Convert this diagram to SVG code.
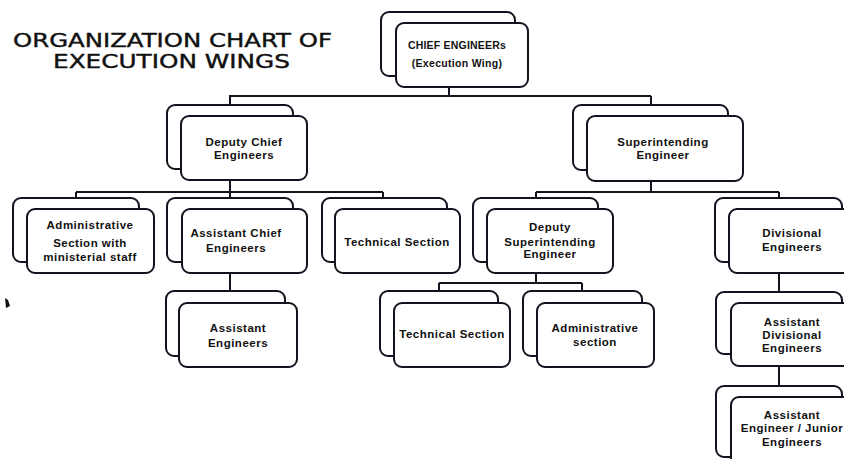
<svg xmlns="http://www.w3.org/2000/svg" width="844" height="459" viewBox="0 0 844 459">
<style>
.bk{fill:#fff;stroke:#151220;stroke-width:2}
.fr{fill:#fff;stroke:#151220;stroke-width:2}
.cn{fill:none;stroke:#151220;stroke-width:2}
.t{font-family:"Liberation Sans",Arial,sans-serif;font-weight:bold;font-size:11.5px;letter-spacing:0.5px;fill:#111;text-anchor:middle}
.ttl{font-family:"DejaVu Sans",Verdana,sans-serif;font-size:19px;fill:#111;stroke:#111;stroke-width:0.4}
</style>
<rect width="844" height="459" fill="#fff"/>
<g id="title">
<text class="ttl" x="13" y="47" textLength="319" lengthAdjust="spacingAndGlyphs">ORGANIZATION CHART OF</text>
<text class="ttl" x="53" y="68" textLength="237" lengthAdjust="spacingAndGlyphs">EXECUTION WINGS</text>
</g>
<g id="connectors">
<path class="cn" d="M449 87V96M229 96H651M230 96V105M651 96V105"/>
<path class="cn" d="M230 180V192M76 192H383M76 192V198M230 192V198M383 192V198"/>
<path class="cn" d="M651 181V192M536 192H779M536 192V198M779 192V198"/>
<path class="cn" d="M230 273V291"/>
<path class="cn" d="M536 273V283M439 283H582M439 283V291M582 283V291"/>
<path class="cn" d="M779 273V292M779 366V386"/>
</g>
<g id="chief">
<rect class="bk" x="381" y="12" width="134" height="64" rx="8"/>
<rect class="fr" x="396" y="23" width="132" height="64" rx="8"/>
<text class="t" x="457" y="49" style="font-size:10.5px;letter-spacing:0.2px">CHIEF ENGINEERs</text>
<text class="t" x="457" y="67" style="font-size:10.5px;letter-spacing:0.3px">(Execution Wing)</text>
</g>
<g id="deputy-chief">
<rect class="bk" x="167" y="105" width="126" height="64" rx="8"/>
<rect class="fr" x="181" y="116" width="126" height="64" rx="8"/>
<text class="t" x="244" y="146">Deputy Chief</text>
<text class="t" x="244" y="159">Engineers</text>
</g>
<g id="superintending">
<rect class="bk" x="573" y="105" width="155" height="65" rx="8"/>
<rect class="fr" x="587" y="116" width="156" height="65" rx="8"/>
<text class="t" x="663" y="146">Superintending</text>
<text class="t" x="663" y="159">Engineer</text>
</g>
<g id="admin-section">
<rect class="bk" x="13" y="198" width="126" height="64" rx="8"/>
<rect class="fr" x="27" y="209" width="127" height="64" rx="8"/>
<text class="t" x="90" y="229">Administrative</text>
<text class="t" x="90" y="247">Section with</text>
<text class="t" x="90" y="261">ministerial staff</text>
</g>
<g id="asst-chief">
<rect class="bk" x="167" y="198" width="126" height="64" rx="8"/>
<rect class="fr" x="182" y="209" width="125" height="64" rx="8"/>
<text class="t" x="236" y="237">Assistant Chief</text>
<text class="t" x="236" y="252">Engineers</text>
</g>
<g id="technical-1">
<rect class="bk" x="322" y="198" width="125" height="64" rx="8"/>
<rect class="fr" x="335" y="209" width="125" height="64" rx="8"/>
<text class="t" x="397" y="246">Technical Section</text>
</g>
<g id="deputy-supt">
<rect class="bk" x="473" y="198" width="125" height="64" rx="8"/>
<rect class="fr" x="487" y="209" width="126" height="64" rx="8"/>
<text class="t" x="550" y="231">Deputy</text>
<text class="t" x="550" y="246">Superintending</text>
<text class="t" x="550" y="258">Engineer</text>
</g>
<g id="divisional">
<rect class="bk" x="715" y="198" width="127" height="64" rx="8"/>
<rect class="fr" x="729" y="209" width="128" height="64" rx="8"/>
<text class="t" x="792" y="237">Divisional</text>
<text class="t" x="792" y="251">Engineers</text>
</g>
<g id="asst-engineers">
<rect class="bk" x="166" y="291" width="119" height="65" rx="8"/>
<rect class="fr" x="179" y="303" width="118" height="64" rx="8"/>
<text class="t" x="238" y="332">Assistant</text>
<text class="t" x="238" y="347">Engineers</text>
</g>
<g id="technical-2">
<rect class="bk" x="380" y="291" width="118" height="65" rx="8"/>
<rect class="fr" x="394" y="303" width="116" height="64" rx="8"/>
<text class="t" x="452" y="338">Technical Section</text>
</g>
<g id="admin-2">
<rect class="bk" x="523" y="291" width="119" height="65" rx="8"/>
<rect class="fr" x="537" y="303" width="117" height="64" rx="8"/>
<text class="t" x="595" y="332">Administrative</text>
<text class="t" x="595" y="346">section</text>
</g>
<g id="asst-divisional">
<rect class="bk" x="716" y="292" width="126" height="62" rx="8"/>
<rect class="fr" x="731" y="303" width="126" height="63" rx="8"/>
<text class="t" x="792" y="326">Assistant</text>
<text class="t" x="792" y="339">Divisional</text>
<text class="t" x="792" y="352">Engineers</text>
</g>
<g id="asst-junior">
<rect class="bk" x="716" y="386" width="126" height="71" rx="8"/>
<rect class="fr" x="731" y="397" width="126" height="80" rx="8"/>
<text class="t" x="792" y="419">Assistant</text>
<text class="t" x="792" y="432">Engineer / Junior</text>
<text class="t" x="792" y="446">Engineers</text>
</g>
<path d="M5 298L8 300L10 306L6 308Z" fill="#111"/>
</svg>
